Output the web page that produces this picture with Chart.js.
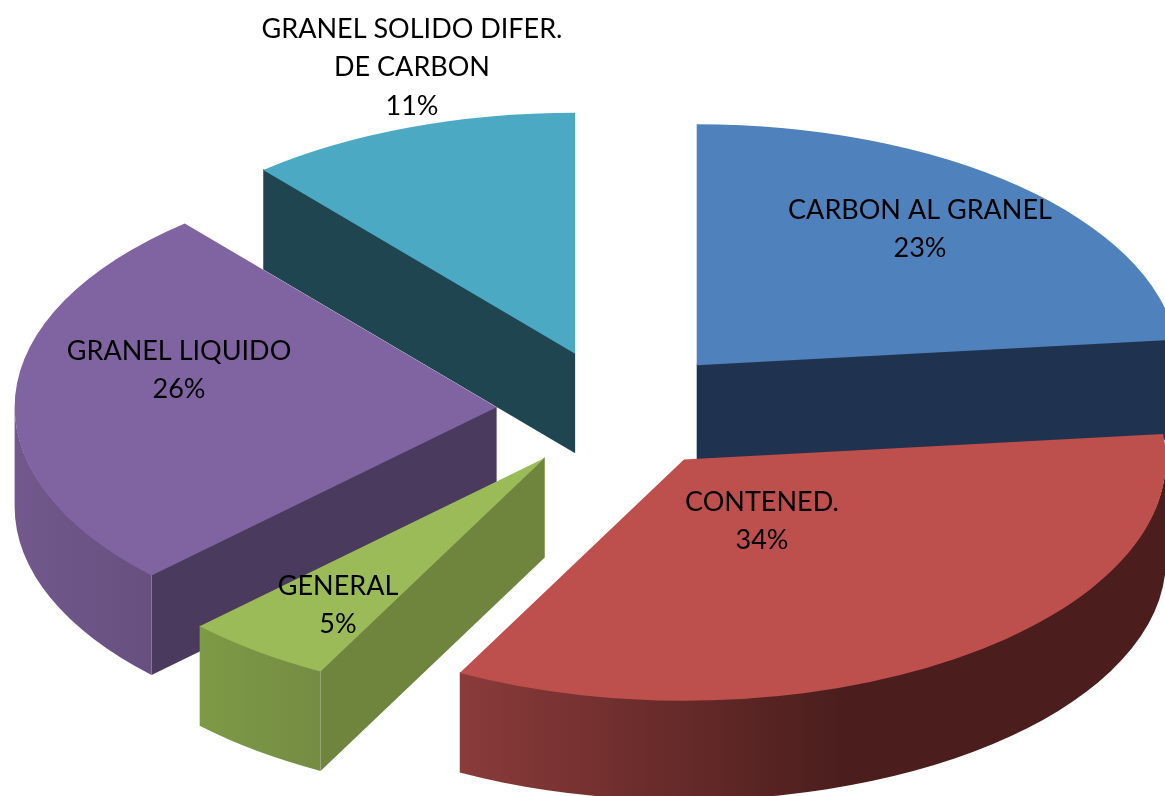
<!DOCTYPE html>
<html lang="en">

<head>
    <meta charset="UTF-8">
    <title>Carga por tipo</title>
    <style>
        html,
        body {
            height: 100%;
            padding: 0;
            margin: 0;
            background: #fff;
            overflow: hidden;
        }

        canvas {
            display: block;
        }
    </style>
</head>

<body>
    <canvas id="pie" width="1165" height="796"></canvas>
</body>

<script src="https://cdn.jsdelivr.net/npm/chart.js@4.4.6/dist/chart.umd.min.js"></script>
<script>
    const categories = ['CARBON AL GRANEL', 'CONTENED.', 'GENERAL', 'GRANEL LIQUIDO', 'GRANEL SOLIDO DIFER.\nDE CARBON'];
    // shares, the labels show them rounded
    const shares = [23.3, 34.4, 5.0, 26.1, 11.2];

    const topColors = ['#4F81BD', '#BD4F4C', '#9BBB59', '#8064A2', '#4BA9C4'];
    const wallColors = ['#1F3350', '#4B1E1D', '#6F853E', '#4A3A5D', '#1F4650'];
    // rim shading, left to right
    const rimStops = [
        [[0, '#1F3350'], [1, '#1F3350']],
        [[0, '#8A3B3A'], [0.54, '#4B1E1D'], [1, '#4B1E1D']],
        [[0, '#7D9A46'], [1, '#758C43']],
        [[0, '#72588C'], [1, '#675080']],
        [[0, '#1F4650'], [1, '#1F4650']],
    ];
    // label centres in page pixels (y of the first line)
    const labelSpots = [[920, 210], [762, 502], [338, 586], [179, 351], [412, 29]];

    const SQUASH = 0.5;    // tilt of the pie
    const DEPTH = 99.5;    // height of the extruded slices
    const EXPLODE = 120;   // distance each slice is pulled out, in pie units

    function pulled(arc) {
        const mid = (arc.startAngle + arc.endAngle) / 2;
        return {
            x: arc.x + Math.cos(mid) * EXPLODE,
            y: arc.y + Math.sin(mid) * EXPLODE * SQUASH,
        };
    }

    function drawSide(ctx, arc, i) {
        const { startAngle: start, endAngle: end, outerRadius: r } = arc;
        const c = pulled(arc);
        const ry = r * SQUASH;
        // sides start 1px up, under the top face, so no seam shows
        const lap = 1;

        // flat radial walls, only those facing the viewer
        [[start, Math.sin(start - Math.PI / 2)], [end, Math.sin(end + Math.PI / 2)]].forEach(([a, facing]) => {
            if (facing <= 0.001) return;
            const px = c.x + Math.cos(a) * r;
            const py = c.y + Math.sin(a) * ry;
            ctx.beginPath();
            ctx.moveTo(c.x, c.y - lap);
            ctx.lineTo(px, py - lap);
            ctx.lineTo(px, py + DEPTH);
            ctx.lineTo(c.x, c.y + DEPTH);
            ctx.closePath();
            ctx.fillStyle = wallColors[i];
            ctx.fill();
        });

        // curved rim, the part on the lower half of the ellipse
        const from = Math.max(start, 0);
        const to = Math.min(end, Math.PI);
        if (to > from) {
            const x0 = c.x + Math.cos(to) * r;
            const x1 = c.x + Math.cos(from) * r;
            const grad = ctx.createLinearGradient(x0, 0, x1, 0);
            rimStops[i].forEach(([o, col]) => grad.addColorStop(o, col));
            ctx.beginPath();
            ctx.ellipse(c.x, c.y - lap, r, ry, 0, from, to);
            ctx.ellipse(c.x, c.y + DEPTH, r, ry, 0, to, from, true);
            ctx.closePath();
            ctx.fillStyle = grad;
            ctx.fill();
        }
    }

    const tiltedPie = {
        id: 'tiltedPie',
        beforeDatasetDraw(chart, args) {
            const { ctx } = chart;
            const arcs = args.meta.data;
            // back slices first
            const order = arcs.map((a, i) => i).sort((a, b) => pulled(arcs[a]).y - pulled(arcs[b]).y);
            order.forEach(i => {
                const arc = arcs[i];
                const c = pulled(arc);
                drawSide(ctx, arc, i);
                ctx.save();
                ctx.translate(c.x, c.y);
                ctx.scale(1, SQUASH);
                ctx.translate(-arc.x, -arc.y);
                arc.draw(ctx);
                ctx.restore();
            });
            return false;
        },
        afterDraw(chart) {
            const { ctx } = chart;
            ctx.save();
            ctx.font = '27px Lato, "Open Sans", sans-serif';
            ctx.fillStyle = '#000';
            ctx.textAlign = 'center';
            ctx.textBaseline = 'middle';
            categories.forEach((name, i) => {
                const lines = name.split('\n').concat(Math.round(shares[i]) + '%');
                const [x, y] = labelSpots[i];
                lines.forEach((line, j) => ctx.fillText(line, x, y + j * 38.5));
            });
            ctx.restore();
        },
    };

    new Chart(document.getElementById('pie'), {
        type: 'pie',
        data: {
            labels: categories,
            datasets: [{
                data: shares,
                backgroundColor: topColors,
                borderWidth: 0,
                radius: 482,
            }],
        },
        options: {
            responsive: false,
            animation: false,
            layout: { padding: { left: 68, top: 24 } },
            plugins: {
                legend: { display: false },
                tooltip: { enabled: false },
            },
        },
        plugins: [tiltedPie],
    });
</script>

</html>
